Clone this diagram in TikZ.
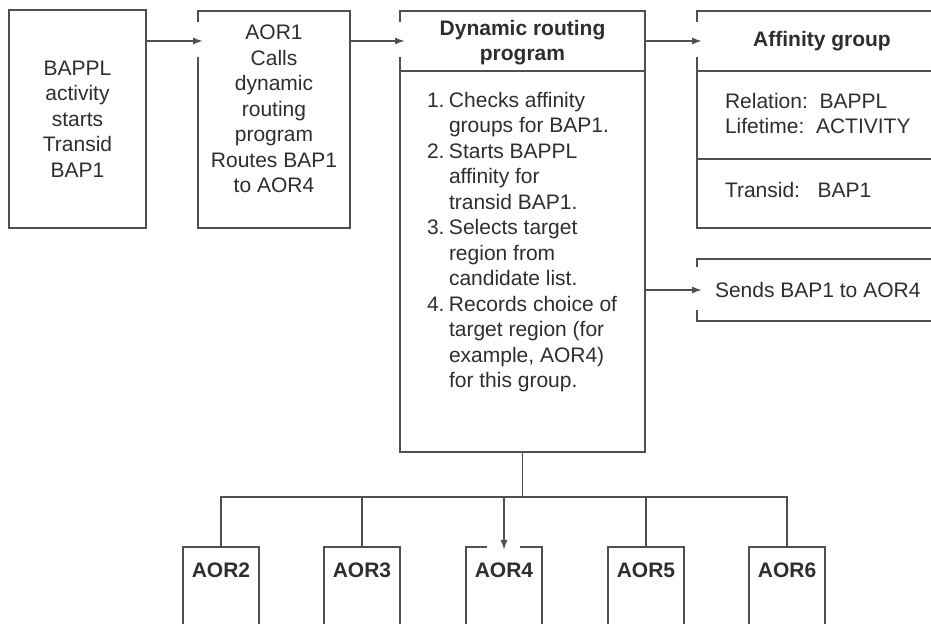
\documentclass[tikz,border=0pt]{standalone}
\usepackage{fontspec}
\setmainfont{Liberation Sans}
\usetikzlibrary{arrows.meta,positioning}

\definecolor{lineGray}{HTML}{505050}
\definecolor{inkGray}{HTML}{2E2E2E}

\def\PicW{931}
\def\PicH{624}
\def\BusY{497}
\newcommand{\StepNo}[1]{\makebox[11pt][l]{#1}}
\newcommand{\StepIn}{\hspace*{11pt}}

\tikzset{
  txt/.style={text=inkGray, inner sep=0pt, outer sep=0pt, align=center,
    font=\fontsize{10.5}{12.75}\selectfont},
  hdr/.style={txt, font=\fontsize{10.5}{12.75}\selectfont\bfseries},
  frame/.style={inner sep=0pt, outer sep=0pt},
  wire/.style={draw=lineGray, line width=0.9pt},
  arr/.style={wire, -{Latex[length=5pt,width=3.6pt]}, shorten >=-2.5pt},
  aorbox/.style={hdr, anchor=north, minimum width=38pt, inner ysep=8pt, text depth=40pt},
}

\begin{document}
\begin{tikzpicture}[x=0.5pt,y=-0.5pt]
  \useasboundingbox (0,0) rectangle (\PicW,\PicH);

  % --- Top row ---
  \node[frame, wire, minimum width=68.5pt, minimum height=109pt, txt] (start) at (77.5,119)
    {BAPPL\\activity\\starts\\Transid\\BAP1};
  \node[frame, minimum width=76pt, minimum height=108.5pt] (aor1) at (274,119.5) {};
  \node[txt, below=7pt of aor1.north] (aor1txt)
    {AOR1\\Calls\\dynamic\\routing\\program\\Routes BAP1\\to AOR4};

  % --- Routing program ---
  \node[frame, minimum width=122.5pt, minimum height=220.5pt] (drp) at (522.5,231.5) {};
  \node[hdr, below=4.5pt of drp.north] (drphead) {Dynamic routing\\program};
  \node[txt, align=left, anchor=north west] (steps) at (427,92) {%
    \StepNo{1.}Checks affinity\\
    \StepIn groups for BAP1.\\
    \StepNo{2.}Starts BAPPL\\
    \StepIn affinity for\\
    \StepIn transid BAP1.\\
    \StepNo{3.}Selects target\\
    \StepIn region from\\
    \StepIn candidate list.\\
    \StepNo{4.}Records choice of\\
    \StepIn target region (for\\
    \StepIn example, AOR4)\\
    \StepIn for this group.};

  % --- Affinity group ---
  \node[frame, minimum width=125pt, minimum height=108.5pt] (grp) at (822,119.5) {};
  \node[hdr, anchor=base] (grphead) at (822,47) {Affinity group};
  \node[txt, align=left, anchor=north west] (grprel) at (725,93)
    {Relation:\ \ BAPPL\\Lifetime:\ \ ACTIVITY};
  \node[txt, anchor=base west] (grptid) at (725,198) {Transid:\ \ \ BAP1};
  \node[txt, anchor=west, inner xsep=9pt, minimum height=31pt] (sends) at (697,290)
    {Sends BAP1 to AOR4};

  % --- Target regions ---
  \foreach \n/\x in {2/221,3/362,4/504,5/646,6/787}{
    \node[aorbox] (aor\n) at (\x,547) {AOR\n};
  }

  % --- Open borders ---
  \draw[wire] (aor1.west |- 0,22) -- (aor1.north west) -- (aor1.north east)
    -- (aor1.south east) -- (aor1.south west) -- (aor1.west |- 0,57);
  \draw[wire] (drp.west |- 0,22) -- (drp.north west) -- (drp.north east)
    -- (drp.south east) -- (drp.south west) -- (drp.west |- 0,57);
  \draw[wire] (drp.west |- 0,71) -- (drp.east |- 0,71);
  \draw[wire] (\PicW,11) -- (grp.north west) -- (grp.west |- 0,22);
  \draw[wire] (grp.west |- 0,57) -- (grp.south west) -- (\PicW,228);
  \foreach \y in {71,159}
    \draw[wire] (grp.west |- 0,\y) -- (\PicW,\y);
  \draw[wire] (\PicW,259) -- (sends.north west) -- (sends.west |- 0,267);
  \draw[wire] (sends.west |- 0,310) -- (sends.south west) -- (\PicW,321);
  \foreach \n in {2,3,5,6}
    \draw[wire] (aor\n.north west |- 0,\PicH) -- (aor\n.north west)
      -- (aor\n.north east) -- (aor\n.north east |- 0,\PicH);
  \draw[wire] (aor4.north west |- 0,\PicH) -- (aor4.north west) -- ++(21,0);
  \draw[wire] (aor4.north east |- 0,\PicH) -- (aor4.north east) -- ++(-22,0);

  % --- Connectors ---
  \draw[arr] (start.east |- 0,41) -- (aor1.west |- 0,41);
  \draw[arr] (aor1.east |- 0,41) -- (drp.west |- 0,41);
  \draw[arr] (drp.east |- 0,41) -- (grp.west |- 0,41);
  \draw[arr] (drp.east |- sends.west) -- (sends.west);
  \coordinate (bus) at (drp.south |- 0,\BusY);
  \draw[wire] (drp.south) -- (bus);
  \draw[wire] (aor2.north) -- (aor2.north |- bus) -- (aor6.north |- bus) -- (aor6.north);
  \foreach \n in {3,5}
    \draw[wire] (aor\n.north |- bus) -- (aor\n.north);
  \draw[arr, shorten >=-1.5pt] (aor4.north |- bus) -- (aor4.north);
\end{tikzpicture}
\end{document}
